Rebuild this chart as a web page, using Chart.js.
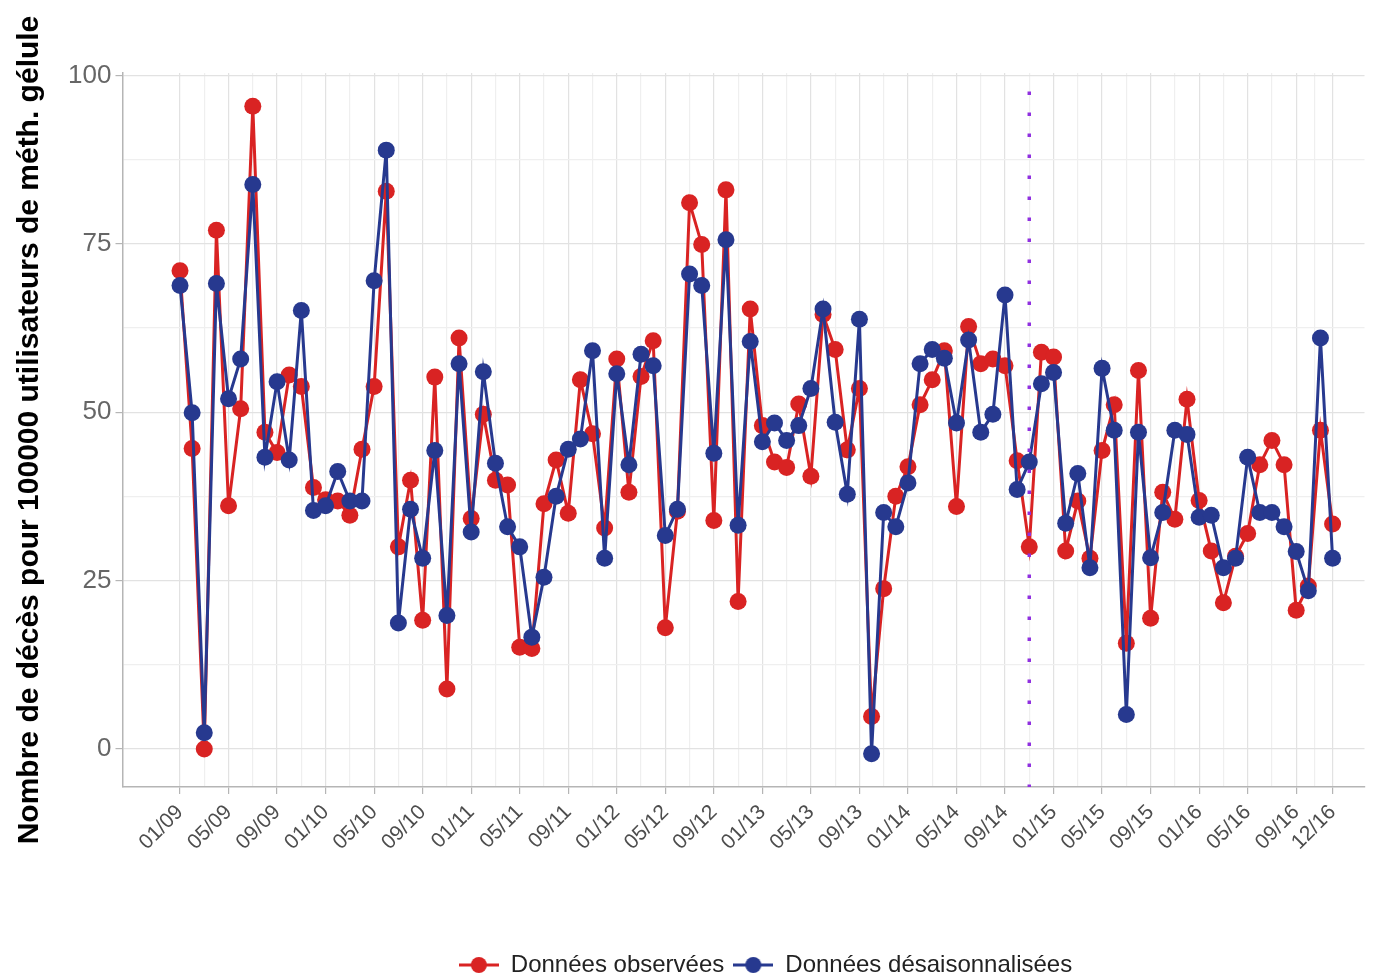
<!DOCTYPE html>
<html>
<head>
<meta charset="utf-8">
<script src="https://cdn.jsdelivr.net/npm/chart.js@4"></script>
<style>
  html, body { margin: 0; padding: 0; background: #ffffff; }
  #c { display: block; }
</style>
</head>
<body>
<canvas id="c" width="1373" height="976"></canvas>
<script>
// ---- Data ----
const months = [
  '01/09','02/09','03/09','04/09','05/09','06/09','07/09','08/09','09/09','10/09','11/09','12/09',
  '01/10','02/10','03/10','04/10','05/10','06/10','07/10','08/10','09/10','10/10','11/10','12/10',
  '01/11','02/11','03/11','04/11','05/11','06/11','07/11','08/11','09/11','10/11','11/11','12/11',
  '01/12','02/12','03/12','04/12','05/12','06/12','07/12','08/12','09/12','10/12','11/12','12/12',
  '01/13','02/13','03/13','04/13','05/13','06/13','07/13','08/13','09/13','10/13','11/13','12/13',
  '01/14','02/14','03/14','04/14','05/14','06/14','07/14','08/14','09/14','10/14','11/14','12/14',
  '01/15','02/15','03/15','04/15','05/15','06/15','07/15','08/15','09/15','10/15','11/15','12/15',
  '01/16','02/16','03/16','04/16','05/16','06/16','07/16','08/16','09/16','10/16','11/16','12/16'
];

const observed = [
  71.0, 44.6, 0.0, 77.0, 36.1, 50.5, 95.4, 47.0, 44.0, 55.5, 53.8, 38.8,
  37.0, 36.8, 34.7, 44.5, 53.8, 82.8, 30.0, 39.9, 19.1, 55.2, 8.9, 61.0,
  34.2, 49.7, 39.9, 39.2, 15.1, 14.9, 36.4, 42.9, 35.0, 54.8, 46.8, 32.8,
  57.9, 38.1, 55.3, 60.6, 18.0, 35.3, 81.1, 74.9, 33.9, 83.0, 21.9, 65.3,
  48.0, 42.6, 41.8, 51.2, 40.5, 64.5, 59.3, 44.4, 53.5, 4.8, 23.8, 37.5,
  41.9, 51.1, 54.8, 59.1, 36.0, 62.7, 57.2, 57.9, 56.9, 42.8, 30.0, 58.9,
  58.2, 29.4, 36.8, 28.3, 44.3, 51.1, 15.7, 56.2, 19.4, 38.1, 34.1, 51.9,
  36.9, 29.4, 21.7, 28.6, 32.0, 42.2, 45.8, 42.2, 20.6, 24.2, 47.3, 33.4
];

const deseasonalized = [
  68.8, 49.9, 2.4, 69.1, 52.0, 57.9, 83.8, 43.3, 54.5, 42.9, 65.1, 35.4,
  36.1, 41.2, 36.8, 36.8, 69.5, 88.9, 18.7, 35.6, 28.3, 44.3, 19.8, 57.2,
  32.2, 56.0, 42.4, 33.0, 30.0, 16.6, 25.5, 37.5, 44.5, 46.0, 59.1, 28.3,
  55.7, 42.2, 58.6, 56.9, 31.7, 35.6, 70.5, 68.8, 43.9, 75.6, 33.2, 60.5,
  45.6, 48.4, 45.8, 48.0, 53.5, 65.3, 48.5, 37.8, 63.8, -0.7, 35.1, 33.0,
  39.5, 57.2, 59.3, 58.0, 48.4, 60.7, 47.0, 49.7, 67.4, 38.5, 42.6, 54.2,
  55.9, 33.5, 40.9, 26.9, 56.5, 47.3, 5.1, 47.0, 28.4, 35.1, 47.3, 46.7,
  34.4, 34.7, 26.9, 28.3, 43.3, 35.1, 35.1, 33.0, 29.3, 23.5, 61.0, 28.3
];

const seriesNames = ['Données observées', 'Données désaisonnalisées'];
const xTickLabels = ['01/09','05/09','09/09','01/10','05/10','09/10','01/11','05/11','09/11',
  '01/12','05/12','09/12','01/13','05/13','09/13','01/14','05/14','09/14','01/15','05/15',
  '09/15','01/16','05/16','09/16','12/16'];
const xTickMonthIndex = [0,4,8,12,16,20,24,28,32,36,40,44,48,52,56,60,64,68,72,76,80,84,88,92,95];
const xMinorMonthIndex = [2,6,10,14,18,22,26,30,34,38,42,46,50,54,58,62,66,70,74,78,82,86,90,93.5];
const yTickValues = [0, 25, 50, 75, 100];
const yMinorValues = [12.5, 37.5, 62.5, 87.5];
const breakMonthIndex = 70; // 11/14 vertical dotted line
const yTitle = 'Nombre de décès pour 100000 utilisateurs de méth. gélule';

// ---- Styling ----
const RED = '#d92323';
const BLUE = '#27398f';
const PURPLE = '#9030e0';
const FONT = '"Liberation Sans", Arial, Helvetica, sans-serif';
Chart.defaults.font.family = FONT;

const Y_MIN = -5.65, Y_MAX = 100.35;
const X_MIN = -4.74, X_MAX = 97.63;

function makeMarker(color) {
  const cv = document.createElement('canvas');
  cv.width = 40; cv.height = 20;
  const g = cv.getContext('2d');
  g.strokeStyle = color; g.lineWidth = 3;
  g.beginPath(); g.moveTo(0, 10); g.lineTo(40, 10); g.stroke();
  g.fillStyle = color;
  g.beginPath(); g.arc(20, 10, 8, 0, Math.PI * 2); g.fill();
  return cv;
}
const markers = [makeMarker(RED), makeMarker(BLUE)];

const xGrid = xTickMonthIndex.concat(xMinorMonthIndex).sort((a, b) => a - b);
const yGrid = yTickValues.concat(yMinorValues).sort((a, b) => a - b);
const isXMajor = v => xTickMonthIndex.indexOf(v) >= 0;
const isYMajor = v => yTickValues.indexOf(v) >= 0;

const toPoints = arr => arr.map((v, i) => ({ x: i, y: v }));

// shift the legend so it is centred under the plotting panel, like the reference
const legendShift = {
  id: 'legendShift',
  afterLayout(chart) {
    const lg = chart.legend;
    if (!lg) return;
    const dx = 79, dy = 2;
    lg.left += dx; lg.right += dx; lg.top += dy; lg.bottom += dy;
  }
};

new Chart(document.getElementById('c'), {
  type: 'line',
  data: {
    datasets: [
      {
        label: seriesNames[0],
        data: toPoints(observed),
        borderColor: RED, backgroundColor: RED,
        pointBackgroundColor: RED, pointBorderWidth: 0,
        pointRadius: 8.5, borderWidth: 3, tension: 0, order: 3
      },
      {
        label: seriesNames[1],
        data: toPoints(deseasonalized),
        borderColor: BLUE, backgroundColor: BLUE,
        pointBackgroundColor: BLUE, pointBorderWidth: 0,
        pointRadius: 8.5, borderWidth: 3, tension: 0, order: 2
      },
      {
        label: 'break',
        data: [{ x: breakMonthIndex, y: 97.6 }, { x: breakMonthIndex, y: Y_MIN }],
        borderColor: PURPLE, borderWidth: 3.5, borderDash: [3.5, 17.5],
        borderCapStyle: 'butt', pointRadius: 0, tension: 0, order: 1
      }
    ]
  },
  plugins: [legendShift],
  options: {
    responsive: false,
    animation: false,
    devicePixelRatio: 1,
    layout: { padding: { top: 73, right: 0, bottom: -9, left: 0 } },
    plugins: {
      tooltip: { enabled: false },
      legend: {
        display: true,
        position: 'bottom',
        labels: {
          usePointStyle: true,
          pointStyleWidth: 40,
          padding: 9,
          color: '#222222',
          font: { size: 24, family: FONT },
          filter: item => item.datasetIndex < 2,
          sort: (a, b) => a.datasetIndex - b.datasetIndex,
          generateLabels: chart => {
            const items = Chart.defaults.plugins.legend.labels.generateLabels(chart);
            items.forEach(it => { if (it.datasetIndex < 2) it.pointStyle = markers[it.datasetIndex]; });
            return items;
          }
        }
      }
    },
    scales: {
      x: {
        type: 'linear',
        min: X_MIN, max: X_MAX,
        afterBuildTicks: s => { s.ticks = xGrid.map(v => ({ value: v })); },
        afterFit: s => { s.height = 155; },
        ticks: {
          autoSkip: false, minRotation: 45, maxRotation: 45,
          color: '#4d4d4d', padding: 6,
          font: { size: 21, family: FONT },
          callback: v => { const k = xTickMonthIndex.indexOf(v); return k >= 0 ? xTickLabels[k] : ''; }
        },
        grid: {
          color: c => (c.tick && isXMajor(c.tick.value)) ? '#e2e2e2' : '#efefef',
          lineWidth: 1.2,
          tickLength: 7,
          tickColor: c => (c.tick && isXMajor(c.tick.value)) ? '#b5b5b5' : 'rgba(0,0,0,0)'
        },
        border: { display: true, color: '#b5b5b5', width: 1.5 }
      },
      y: {
        type: 'linear',
        min: Y_MIN, max: Y_MAX,
        afterBuildTicks: s => { s.ticks = yGrid.map(v => ({ value: v })); },
        afterFit: s => { s.width = 122.5; },
        ticks: {
          color: '#666666', padding: 4,
          font: { size: 26, family: FONT },
          callback: v => isYMajor(v) ? String(v) : ''
        },
        grid: {
          color: c => (c.tick && isYMajor(c.tick.value)) ? '#e2e2e2' : '#efefef',
          lineWidth: 1.2,
          tickLength: 7,
          tickColor: c => (c.tick && isYMajor(c.tick.value)) ? '#b5b5b5' : 'rgba(0,0,0,0)'
        },
        border: { display: true, color: '#b5b5b5', width: 1.5 },
        title: {
          display: true, text: yTitle, color: '#000000',
          font: { size: 30, weight: 'bold', family: FONT },
          padding: { top: 12, bottom: 0 }
        }
      }
    }
  }
});
</script>
</body>
</html>
